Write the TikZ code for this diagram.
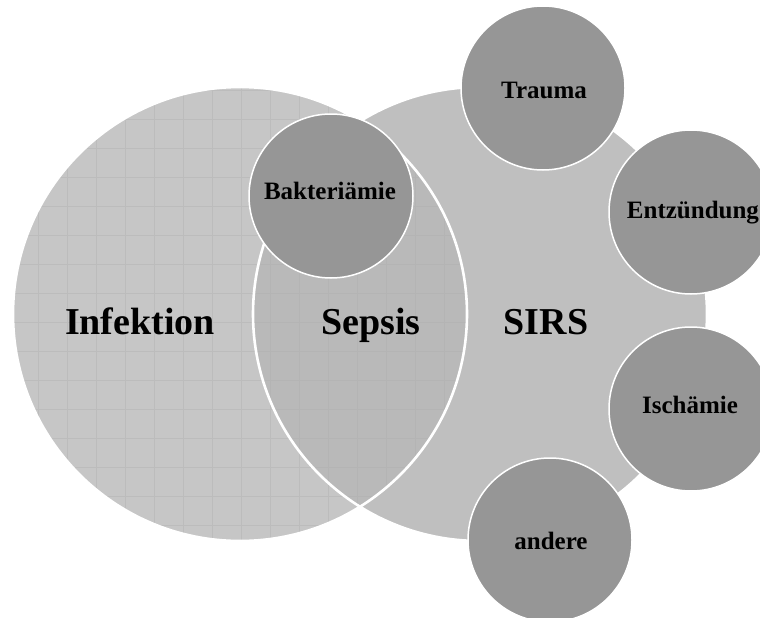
\documentclass[tikz,border=0pt]{standalone}
\usepackage{fontspec}
\setmainfont{Liberation Serif}
\definecolor{infgray}{HTML}{C6C6C6}
\definecolor{infgrid}{HTML}{BCBCBC}
\definecolor{sirsgray}{HTML}{BFBFBF}
\definecolor{lensgray}{HTML}{B9B9B9}
\definecolor{lensgrid}{HTML}{B4B4B4}
\definecolor{bubblegray}{HTML}{969696}
\begin{document}
\begin{tikzpicture}[x=1pt,y=-1pt,
  big/.style={font=\fontsize{38}{40}\selectfont\bfseries, inner sep=0pt, anchor=base},
  small/.style={font=\fontsize{25}{27}\selectfont\bfseries, inner sep=0pt, anchor=base},
  bubble/.style={circle, fill=bubblegray, draw=white, line width=1.5pt, minimum size=164pt, inner sep=0pt},
  gridline/.style={draw=infgrid, line width=1pt},
  lensline/.style={draw=lensgrid, line width=1pt},
  rim/.style={draw=white, line width=2.6pt}]
\useasboundingbox (0,0) rectangle (760,618);
\coordinate (ci) at (240,314);
\coordinate (cs) at (480,314);
% Infektion circle with grid
\begin{scope}
  \clip (ci) circle[radius=227];
  \fill[infgray] (ci) circle[radius=227];
  \foreach \x in {9,38,...,480} \draw[gridline] (\x,0) -- (\x,618);
  \foreach \y in {3,32,...,618} \draw[gridline] (0,\y) -- (760,\y);
\end{scope}
% SIRS circle
\fill[sirsgray] (cs) circle[radius=227];
% Sepsis lens
\begin{scope}
  \clip (ci) circle[radius=227];
  \clip (cs) circle[radius=227];
  \fill[lensgray] (0,0) rectangle (760,618);
  \foreach \x in {9,38,...,480} \draw[lensline] (\x,0) -- (\x,618);
  \foreach \y in {3,32,...,618} \draw[lensline] (0,\y) -- (760,\y);
\end{scope}
\draw[rim] (cs) circle[radius=227];
\draw[rim] (ci) circle[radius=227];
% bubbles
\node[bubble] (bakt) at (331,196) {};
\node[bubble] (trau) at (543,88) {};
\node[bubble] (entz) at (691,212) {};
\node[bubble] (isch) at (691,409) {};
\node[bubble] (and) at (550,540) {};
% labels
\node[big] (tinf) at (140,334) {Infektion};
\node[big] (tsep) at (371,334) {Sepsis};
\node[big] (tsirs) at (546,334) {SIRS};
\node[small] (tbakt) at (330,199) {Bakteriämie};
\node[small] (ttrau) at (544,98) {Trauma};
\node[small] (tentz) at (693,218) {Entzündung};
\node[small] (tisch) at (690,413) {Ischämie};
\node[small] (tand) at (551,549) {andere};
\end{tikzpicture}
\end{document}
